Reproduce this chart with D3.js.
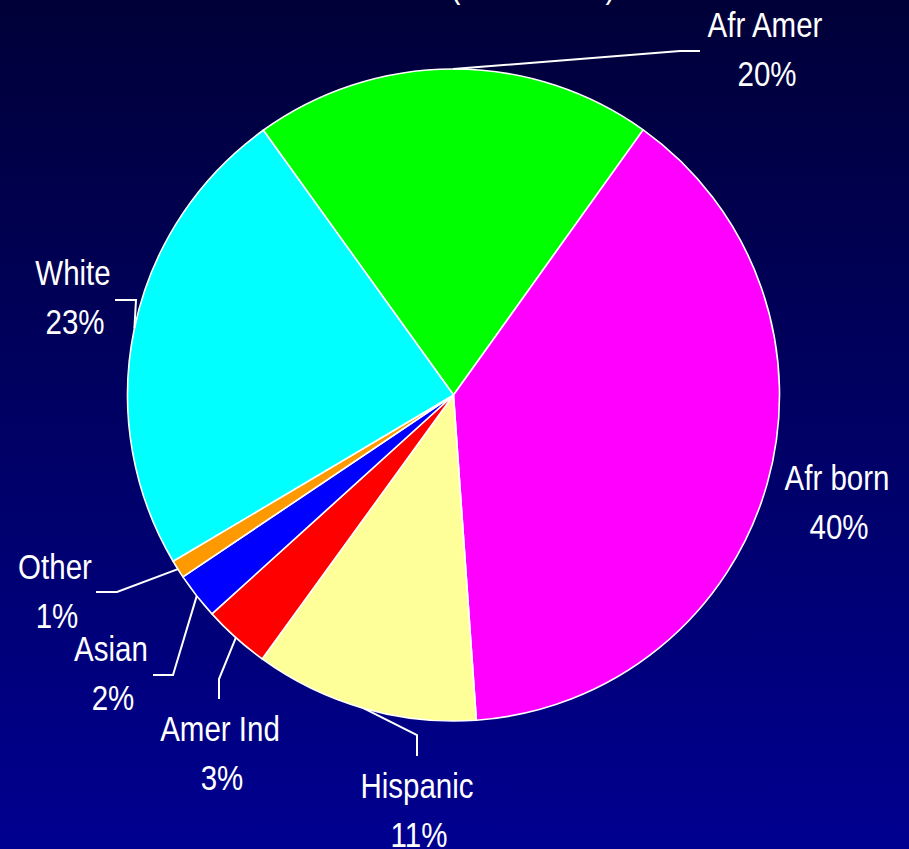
<!DOCTYPE html>
<html>
<head>
<meta charset="utf-8">
<script src="https://cdn.jsdelivr.net/npm/d3@7"></script>
<style>
  html, body { margin: 0; padding: 0; background: #000060; }
  svg { display: block; }
  text { font-family: "Liberation Sans", Arial, sans-serif; fill: #ffffff; }
</style>
</head>
<body>
<svg id="chart" width="909" height="849"></svg>
<script>
// ---- data ----
const categories = ["Afr Amer", "Afr born", "Hispanic", "Amer Ind", "Asian", "Other", "White"];
const values = [19.8, 39.0, 11.1, 3.3, 2.3, 0.9, 23.6];
const percentLabels = ["20%", "40%", "11%", "3%", "2%", "1%", "23%"];
const colors = ["#00ff00", "#ff00ff", "#ffff99", "#ff0000", "#0000ff", "#ff9900", "#00ffff"];
const titleText = "(2000-2004)";

// ---- layout (not data) ----
const W = 909, H = 849;
const cx = 453.5, cy = 395, R = 326;
const startDeg = -35.7;
const narrow = 0.82; // emulate a condensed face
const labelLayout = {
  "Afr Amer": { x: 765, y: 37, leader: [[680, 51], [700, 51]] },
  "Afr born": { x: 837, y: 490, leader: null },
  "Hispanic": { x: 417, y: 798, leader: [[417, 735], [417, 756]] },
  "Amer Ind": { x: 220, y: 741, leader: [[219, 679], [219, 699]] },
  "Asian":    { x: 111, y: 661, leader: [[173, 675], [153, 675]] },
  "Other":    { x: 55,  y: 579, leader: [[117, 592], [96, 592]] },
  "White":    { x: 73,  y: 285, leader: [[136, 300], [115, 300]] }
};
const lineGap = 49;
const fontSize = 36;

const svg = d3.select("#chart");
const defs = svg.append("defs");
const grad = defs.append("linearGradient").attr("id", "bg")
  .attr("x1", 0).attr("y1", 0).attr("x2", 0).attr("y2", 1);
grad.append("stop").attr("offset", "0%").attr("stop-color", "#000038");
grad.append("stop").attr("offset", "100%").attr("stop-color", "#000090");
svg.append("rect").attr("width", W).attr("height", H).attr("fill", "url(#bg)");

// title (mostly cut off at the top)
svg.append("g").attr("transform", `translate(533,0) scale(${narrow},1)`)
  .append("text").attr("x", 0).attr("y", -3)
  .attr("text-anchor", "middle").attr("font-size", 37).text(titleText);

const data = categories.map((c, i) => ({ name: c, value: values[i], pct: percentLabels[i], color: colors[i] }));
const start = startDeg * Math.PI / 180;
const pie = d3.pie().value(d => d.value).sort(null)
  .startAngle(start).endAngle(start + 2 * Math.PI);
const arcs = pie(data);
const arc = d3.arc().innerRadius(0).outerRadius(R);

const g = svg.append("g").attr("transform", `translate(${cx},${cy})`);
g.selectAll("path.slice").data(arcs).join("path")
  .attr("class", "slice")
  .attr("d", arc)
  .attr("fill", d => d.data.color)
  .attr("stroke", "#ffffff")
  .attr("stroke-width", 1.6)
  .attr("stroke-linejoin", "round");

// leader lines
arcs.forEach(a => {
  const lay = labelLayout[a.data.name];
  if (!lay.leader) return;
  const mid = (a.startAngle + a.endAngle) / 2;
  const p0 = [cx + R * Math.sin(mid), cy - R * Math.cos(mid)];
  const pts = [p0].concat(lay.leader);
  svg.append("path")
    .attr("d", d3.line()(pts))
    .attr("fill", "none")
    .attr("stroke", "#ffffff")
    .attr("stroke-width", 2);
});

// labels
arcs.forEach(a => {
  const lay = labelLayout[a.data.name];
  const lg = svg.append("g").attr("transform", `translate(${lay.x},0) scale(${narrow},1)`);
  const t = lg.append("text")
    .attr("text-anchor", "middle")
    .attr("font-size", fontSize);
  t.append("tspan").attr("x", 0).attr("y", lay.y).text(a.data.name);
  t.append("tspan").attr("x", 2 / narrow).attr("y", lay.y + lineGap).text(a.data.pct);
});
</script>
</body>
</html>
